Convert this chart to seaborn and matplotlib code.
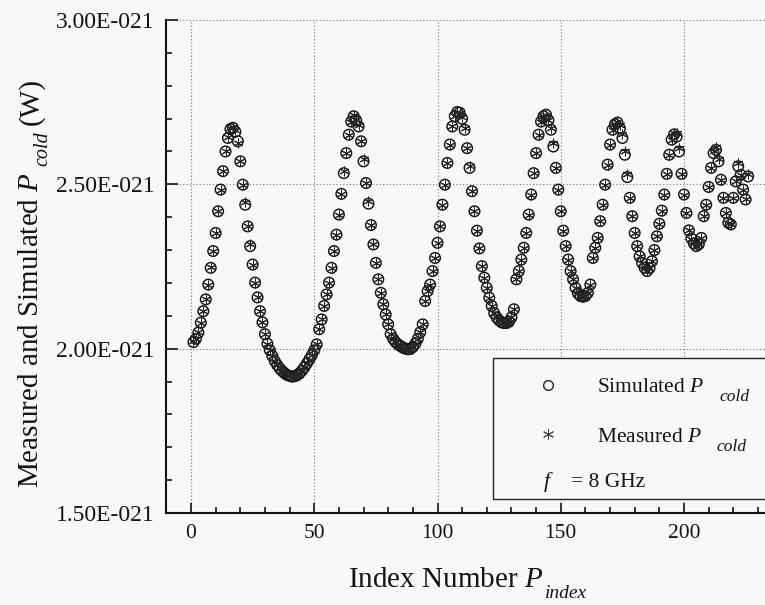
import numpy as np
import pandas as pd
import matplotlib
matplotlib.use("Agg")
import matplotlib.pyplot as plt
import seaborn as sns
from matplotlib.ticker import MultipleLocator, FixedLocator, FixedFormatter
from matplotlib.patches import Rectangle
from matplotlib.lines import Line2D

# ---------------- data (values in units of 1E-21 W) ----------------
index = list(range(1, 227))

simulated = [
    2.020, 2.030, 2.049, 2.079, 2.114, 2.150, 2.195, 2.246, 2.297, 2.352,
    2.418, 2.484, 2.540, 2.600, 2.641, 2.668, 2.672, 2.660, 2.631, 2.570,
    2.499, 2.438, 2.372, 2.312, 2.256, 2.201, 2.156, 2.114, 2.080, 2.044,
    2.015, 1.995, 1.978, 1.962, 1.950, 1.940, 1.932, 1.925, 1.920, 1.917,
    1.915, 1.916, 1.919, 1.925, 1.933, 1.943, 1.955, 1.967, 1.980, 1.995,
    2.013, 2.059, 2.089, 2.130, 2.165, 2.201, 2.246, 2.297, 2.347, 2.408,
    2.471, 2.534, 2.595, 2.651, 2.691, 2.707, 2.695, 2.676, 2.631, 2.570,
    2.504, 2.441, 2.376, 2.317, 2.261, 2.211, 2.170, 2.135, 2.104, 2.074,
    2.044, 2.030, 2.020, 2.013, 2.008, 2.003, 2.000, 1.998, 1.999, 2.005,
    2.015, 2.030, 2.050, 2.074, 2.145, 2.175, 2.195, 2.236, 2.276, 2.322,
    2.372, 2.438, 2.499, 2.565, 2.621, 2.676, 2.707, 2.720, 2.718, 2.700,
    2.666, 2.610, 2.550, 2.479, 2.418, 2.359, 2.305, 2.251, 2.216, 2.185,
    2.155, 2.130, 2.108, 2.095, 2.086, 2.080, 2.078, 2.078, 2.082, 2.095,
    2.120, 2.211, 2.236, 2.271, 2.307, 2.352, 2.408, 2.469, 2.534, 2.595,
    2.651, 2.691, 2.707, 2.712, 2.695, 2.666, 2.615, 2.550, 2.484, 2.418,
    2.359, 2.312, 2.271, 2.236, 2.211, 2.185, 2.168, 2.160, 2.158, 2.160,
    2.170, 2.195, 2.276, 2.307, 2.337, 2.388, 2.438, 2.499, 2.560, 2.621,
    2.666, 2.683, 2.688, 2.670, 2.641, 2.590, 2.522, 2.459, 2.403, 2.352,
    2.312, 2.281, 2.261, 2.246, 2.236, 2.245, 2.266, 2.300, 2.342, 2.380,
    2.420, 2.469, 2.532, 2.590, 2.636, 2.652, 2.645, 2.600, 2.532, 2.469,
    2.413, 2.360, 2.335, 2.320, 2.312, 2.318, 2.337, 2.403, 2.438, 2.492,
    2.550, 2.595, 2.605, 2.570, 2.514, 2.459, 2.413, 2.383, 2.378, 2.459,
    2.509, 2.555, 2.529, 2.484, 2.454, 2.524,
]

measured = [
    2.022, 2.030, 2.052, 2.079, 2.114, 2.152, 2.195, 2.248, 2.297, 2.352,
    2.420, 2.484, 2.542, 2.600, 2.643, 2.670, 2.675, 2.665, 2.625, 2.570,
    2.499, 2.445, 2.372, 2.318, 2.256, 2.201, 2.156, 2.114, 2.080, 2.044,
    2.015, 1.995, 1.978, 1.962, 1.950, 1.940, 1.932, 1.925, 1.920, 1.917,
    1.915, 1.916, 1.919, 1.920, 1.933, 1.943, 1.955, 1.967, 1.980, 1.995,
    2.013, 2.059, 2.089, 2.130, 2.165, 2.201, 2.246, 2.297, 2.347, 2.408,
    2.471, 2.540, 2.595, 2.651, 2.691, 2.710, 2.695, 2.682, 2.631, 2.578,
    2.504, 2.448, 2.376, 2.317, 2.261, 2.211, 2.170, 2.135, 2.104, 2.074,
    2.044, 2.030, 2.020, 2.013, 2.008, 2.003, 2.000, 1.998, 1.999, 2.005,
    2.015, 2.030, 2.050, 2.074, 2.145, 2.175, 2.195, 2.236, 2.276, 2.322,
    2.372, 2.438, 2.499, 2.565, 2.621, 2.676, 2.707, 2.720, 2.718, 2.705,
    2.672, 2.610, 2.555, 2.479, 2.418, 2.359, 2.305, 2.251, 2.216, 2.185,
    2.155, 2.130, 2.108, 2.095, 2.086, 2.080, 2.078, 2.078, 2.082, 2.095,
    2.120, 2.211, 2.236, 2.271, 2.307, 2.352, 2.408, 2.469, 2.534, 2.595,
    2.651, 2.691, 2.707, 2.712, 2.695, 2.672, 2.625, 2.550, 2.484, 2.418,
    2.359, 2.312, 2.271, 2.236, 2.211, 2.185, 2.168, 2.160, 2.158, 2.160,
    2.170, 2.195, 2.276, 2.307, 2.337, 2.388, 2.438, 2.499, 2.560, 2.621,
    2.666, 2.683, 2.690, 2.680, 2.652, 2.600, 2.530, 2.459, 2.403, 2.352,
    2.312, 2.281, 2.261, 2.246, 2.236, 2.245, 2.266, 2.300, 2.342, 2.380,
    2.420, 2.469, 2.532, 2.590, 2.636, 2.655, 2.655, 2.610, 2.532, 2.469,
    2.413, 2.360, 2.335, 2.320, 2.312, 2.318, 2.337, 2.403, 2.438, 2.492,
    2.550, 2.600, 2.615, 2.578, 2.514, 2.459, 2.413, 2.383, 2.378, 2.459,
    2.509, 2.565, 2.529, 2.484, 2.454, 2.530,
]

x_major = [0, 50, 100, 150, 200]
y_major = [1.5, 2.0, 2.5, 3.0]
y_tick_labels = ["1.50E-021", "2.00E-021", "2.50E-021", "3.00E-021"]
legend_main = ["Simulated $P$", "Measured $P$"]
sub_cold = "cold"
xlabel_main, xlabel_sub = "Index Number $P$", "index"
ylabel_main, ylabel_sub, ylabel_unit = "Measured and Simulated $P$", "cold", "(W)"
freq_sym, freq_text = "$f$", "= 8 GHz"

df = pd.DataFrame({
    "index": index,
    "sim": np.array(simulated) * 1e-21,
    "meas": np.array(measured) * 1e-21,
})

# ---------------- style ----------------
sns.set_theme(style="white")
bg = "#f8f8f6"
ink = "#141414"
plt.rcParams["font.family"] = ["Liberation Serif", "DejaVu Serif"]
plt.rcParams["mathtext.fontset"] = "custom"
plt.rcParams["mathtext.rm"] = "Liberation Serif"
plt.rcParams["mathtext.it"] = "Liberation Serif:italic"
plt.rcParams["mathtext.bf"] = "Liberation Serif:bold"

W, H = 765, 605
fig = plt.figure(figsize=(W / 100, H / 100), dpi=100, facecolor=bg)

left_px, right_px, top_px, bottom_px = 166, 765, 20, 513
ax = fig.add_axes([left_px / W, (H - bottom_px) / H,
                   (right_px - left_px) / W, (bottom_px - top_px) / H])
ax.set_facecolor(bg)

px_per_unit = (684 - 191) / 200.0
ax.set_xlim((left_px - 191) / px_per_unit, (right_px - 191) / px_per_unit)
ax.set_ylim(1.5e-21, 3.0e-21)

sns.scatterplot(data=df, x="index", y="sim", ax=ax, marker="o", s=58,
                facecolors="none", edgecolor=ink, linewidth=1.05,
                zorder=3, legend=False)
sns.scatterplot(data=df, x="index", y="meas", ax=ax, marker=(6, 2, 0), s=42,
                color="#262626", linewidth=0.75, zorder=4, legend=False)
ax.set_xlabel("")
ax.set_ylabel("")

# ticks
ax.xaxis.set_major_locator(FixedLocator(x_major))
ax.xaxis.set_minor_locator(MultipleLocator(10))
ax.yaxis.set_major_locator(FixedLocator([v * 1e-21 for v in y_major]))
ax.yaxis.set_major_formatter(FixedFormatter(y_tick_labels))
ax.yaxis.set_minor_locator(MultipleLocator(0.1e-21))
ax.tick_params(axis="both", which="both", direction="in", color=ink,
               width=1.2, left=True, bottom=True, top=False, right=False)
ax.tick_params(axis="x", which="major", length=7, pad=8, labelsize=15.5,
               labelcolor=ink)
ax.tick_params(axis="y", which="major", length=8.5, pad=8, labelsize=17,
               labelcolor=ink)
ax.tick_params(axis="both", which="minor", length=4)

for s in ["top", "right"]:
    ax.spines[s].set_visible(False)
for s in ["left", "bottom"]:
    ax.spines[s].set_color(ink)
    ax.spines[s].set_linewidth(1.5)

ax.grid(True, which="major", linestyle=(0, (1, 2)), color="#777",
        linewidth=0.8)
ax.set_axisbelow(True)

renderer = fig.canvas.get_renderer()


def ftext(xpx, ypx_top, s, **kw):
    """Place figure text at pixel position (y measured from the top)."""
    return fig.text(xpx / W, (H - ypx_top) / H, s, color=ink, **kw)


def hcompose(x0, base, main, sub, size, subsize, gap, drop, zorder=7):
    t = ftext(x0, base, main, fontsize=size, ha="left", va="baseline",
              zorder=zorder)
    bb = t.get_window_extent(renderer)
    ftext(bb.x1 + gap, base + drop, sub, fontsize=subsize, style="italic",
          ha="left", va="baseline", zorder=zorder)


# x label
hcompose(348, 587, xlabel_main, xlabel_sub, 21, 14, 2, 11, zorder=2)

# y label (vertical, reading bottom to top)
yb, ys = 38, 488
t1 = ftext(yb, ys, ylabel_main, fontsize=21, rotation=90,
           rotation_mode="anchor", ha="left", va="baseline")
bb1 = t1.get_window_extent(renderer)
t2 = ftext(yb + 9, H - (bb1.y1 + 6), ylabel_sub, fontsize=14.5,
           style="italic", rotation=90, rotation_mode="anchor", ha="left",
           va="baseline")
bb2 = t2.get_window_extent(renderer)
ftext(yb, H - (bb2.y1 + 6), ylabel_unit, fontsize=21, rotation=90,
      rotation_mode="anchor", ha="left", va="baseline")

# ---------------- legend box ----------------
box = Rectangle((493 / W, (H - 499) / H), 0.5, (499 - 358) / H,
                transform=fig.transFigure, facecolor=bg, edgecolor="#222",
                linewidth=1.0, zorder=5)
fig.add_artist(box)
fig.add_artist(Line2D([548 / W], [(H - 385) / H], marker="o", markersize=7,
                      mfc="none", mec="#222", mew=1.0, linestyle="none",
                      transform=fig.transFigure, zorder=6))
fig.add_artist(Line2D([548 / W], [(H - 434) / H], marker=(6, 2, 0),
                      markersize=8, color="#444", mew=0.7, linestyle="none",
                      transform=fig.transFigure, zorder=6))
hcompose(597, 392, legend_main[0], sub_cold, 15.5, 12.5, 15, 9)
hcompose(597, 442, legend_main[1], sub_cold, 15.5, 12.5, 15, 9)
ftext(543, 487, freq_sym, fontsize=16, ha="left", va="baseline", zorder=7)
ftext(571, 487, freq_text, fontsize=15.5, ha="left", va="baseline", zorder=7)

fig.savefig("out.png", dpi=100, facecolor=bg)
